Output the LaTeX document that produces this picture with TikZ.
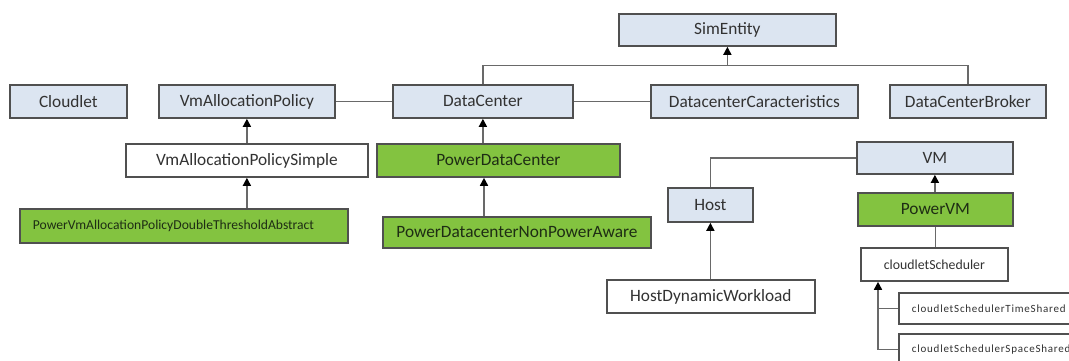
\documentclass[tikz,border=0pt]{standalone}
\usepackage{fontspec}
\setmainfont{Carlito}
\newfontfamily\spacedfont[LetterSpace=7]{Carlito}
\usetikzlibrary{arrows.meta,calc}

\definecolor{boxblue}{RGB}{220,229,241}
\definecolor{boxgreen}{RGB}{131,195,64}
\definecolor{edgegray}{RGB}{80,80,80}
\definecolor{wiregray}{RGB}{105,105,105}
\definecolor{ink}{RGB}{50,50,50}
\definecolor{greenink}{RGB}{30,45,20}

\tikzset{
  cls/.style={draw=edgegray, line width=1.8pt, anchor=north west, inner sep=0pt,
              text=ink, font=\fontsize{17.3}{20}\selectfont},
  base/.style={cls, fill=boxblue},
  pwr/.style={cls, fill=boxgreen, text=greenink},
  impl/.style={cls, fill=white},
  wire/.style={draw=wiregray, line width=1.6pt},
  inh/.style={wire, -{Triangle[length=8pt,width=8pt,color=black]}},
}

\begin{document}
\begin{tikzpicture}[x=1pt,y=-1pt]
\useasboundingbox (0,0) rectangle (1069,360);
\clip (0,0) rectangle (1069,360);

% top row
\node[base, minimum width=217pt, minimum height=32pt] (sim) at (618,13) {SimEntity};
\node[base, minimum width=117pt, minimum height=33pt] (cloudlet) at (9,84) {Cloudlet};
\node[base, minimum width=176pt, minimum height=33pt] (vmap) at (158,84) {VmAllocationPolicy};
\node[base, minimum width=180pt, minimum height=33pt] (dc) at (392,84) {DataCenter};
\node[base, minimum width=207pt, minimum height=33pt] (dcc) at (650,84) {DatacenterCaracteristics};
\node[base, minimum width=156pt, minimum height=33pt] (broker) at (889,84) {DataCenterBroker};

% allocation policies and data centres
\node[impl, minimum width=242pt, minimum height=33pt] (vmaps) at (125,143) {VmAllocationPolicySimple};
\node[pwr, minimum width=243pt, minimum height=33pt] (pdc) at (376,143) {PowerDataCenter};
\node[pwr, minimum height=34pt, text width=302pt, inner xsep=13pt, align=left,
      font=\fontsize{13.6}{16}\selectfont] (pvmadt) at (19,208)
      {PowerVmAllocationPolicyDoubleThresholdAbstract};
\node[pwr, minimum width=268pt, minimum height=31pt] (pdcn) at (382,216) {PowerDatacenterNonPowerAware};

% hosts and virtual machines
\node[base, minimum width=156pt, minimum height=32pt] (vm) at (856,141) {VM};
\node[base, minimum width=85pt, minimum height=34pt] (host) at (667,187) {Host};
\node[impl, minimum width=208pt, minimum height=33pt] (hdw) at (606,279) {HostDynamicWorkload};
\node[pwr, minimum width=155pt, minimum height=33pt] (pvm) at (857,192) {PowerVM};
\node[impl, minimum width=147pt, minimum height=33pt, font=\fontsize{13.8}{16}\selectfont] (cs) at (860,247) {cloudletScheduler};
\node[impl, minimum height=31pt, text width=161pt, inner xsep=13pt, align=left,
      font=\spacedfont\fontsize{11}{13}\selectfont] (csts) at (898,292) {cloudletSchedulerTimeShared};
\node[impl, minimum height=31pt, text width=161pt, inner xsep=13pt, align=left,
      font=\spacedfont\fontsize{11}{13}\selectfont] (csss) at (898,333) {cloudletSchedulerSpaceShared};

% SimEntity hierarchy
\coordinate (bus) at ($(sim.south)+(0,18.5)$);
\draw[wire] (dc.north) |- (bus) -| (broker.north);
\draw[inh] (bus) -- (sim.south);

% associations of DataCenter
\draw[wire] (vmap.east) -- (dc.west);
\draw[wire] (dc.east) -- (dcc.west);

% inheritance links
\draw[inh] (vmaps.north) -- (vmap.south);
\draw[inh] (pvmadt.north -| vmaps.south) -- (vmaps.south);
\draw[inh] (pdc.north -| dc.south) -- (dc.south);
\draw[inh] (pdcn.north -| 484,0) -- (pdc.south -| 484,0);

\draw[wire] (vm.west) -| (host.north);
\draw[inh] (hdw.north -| host.south) -- (host.south);
\draw[inh] (pvm.north -| vm.south) -- (vm.south);
\draw[wire] (pvm.south) -- (pvm.south |- cs.north);

% scheduler policies
\coordinate (trunk) at ($(cs.south west)+(18,0)$);
\draw[inh] (csss.west) -| (trunk);
\draw[wire] (csts.west) -- (csts.west -| trunk);
\end{tikzpicture}
\end{document}
